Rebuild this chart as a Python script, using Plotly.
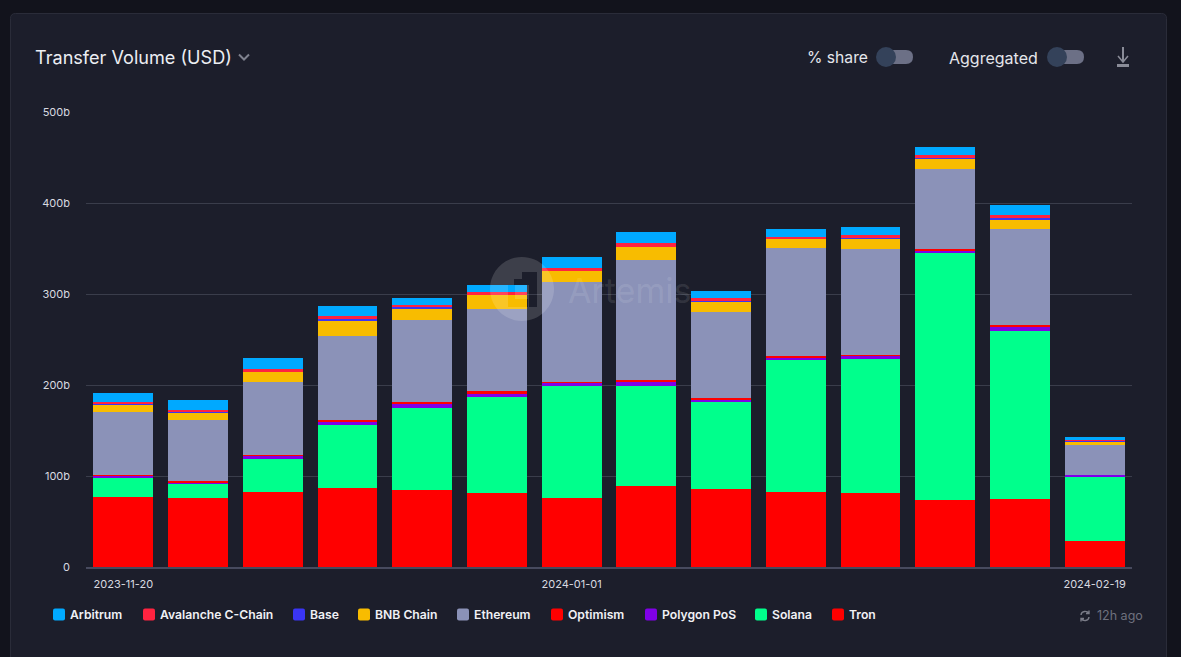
import plotly.graph_objects as go

weeks = ["2023-11-20","2023-11-27","2023-12-04","2023-12-11","2023-12-18","2023-12-25","2024-01-01",
         "2024-01-08","2024-01-15","2024-01-22","2024-01-29","2024-02-05","2024-02-12","2024-02-19"]
tron = [76.9,75.8,82.4,86.8,84.6,81.3,75.8,89.0,85.7,82.4,81.3,73.6,74.7,28.6]
solana = [20.9,15.4,36.3,69.2,90.1,105.5,123.1,109.9,95.6,145.1,147.3,271.4,184.6,70.3]
polygon = [2.5,2.2,3.3,3.3,4.4,3.3,3.3,4.4,3.3,3.0,3.3,3.3,4.4,2.2]
optimism = [0.8,1.1,1.1,2.2,2.2,3.3,1.1,2.2,1.1,1.4,1.1,1.1,2.2,0.3]
ethereum = [69.2,67.0,80.2,92.3,90.1,90.1,109.9,131.9,94.5,119.0,116.5,87.9,105.5,32.6]
bnb = [8.8,8.8,11.0,17.6,13.2,15.4,12.1,14.3,12.1,9.6,11.0,12.1,11.0,4.4]
base = [0.4,0.4,0.4,1.1,1.1,0.5,0.5,0.5,0.5,0.4,1.4,0.4,1.1,0.2]
avalanche = [1.8,1.8,2.9,3.3,2.5,2.7,2.7,3.8,2.7,1.8,3.0,2.9,3.0,0.9]
arbitrum = [9.9,11.0,12.1,11.0,7.4,7.7,12.1,12.1,7.7,8.8,8.8,8.8,11.3,3.3]

stack = [("Tron",tron,"#FF0000"),("Solana",solana,"#00FF8C"),("Polygon PoS",polygon,"#8000E8"),
         ("Optimism",optimism,"#FF0000"),("Ethereum",ethereum,"#8B92B8"),("BNB Chain",bnb,"#F8BC00"),
         ("Base",base,"#3A35F5"),("Avalanche C-Chain",avalanche,"#FF2340"),("Arbitrum",arbitrum,"#00A9FF")]

legend_items = [("Arbitrum",53,"#00A9FF"),("Avalanche C-Chain",143,"#FF2340"),("Base",293,"#3A35F5"),
                ("BNB Chain",358,"#F8BC00"),("Ethereum",457,"#8B92B8"),("Optimism",551,"#FF0000"),
                ("Polygon PoS",645,"#8000E8"),("Solana",755,"#00FF8C"),("Tron",832,"#FF0000")]

W,H = 1181,657
L,R,T,B = 86,49,112,90
PW,PH = W-L-R, H-T-B
def px(x): return (x-L)/PW
def py(y): return (H-B-y)/PH

def rr(x0,y0,x1,y1,r):
    X0,X1,Y0,Y1 = px(x0),px(x1),py(y0),py(y1)
    rx,ry = r/PW, r/PH
    return (f"M{X0+rx},{Y0} L{X1-rx},{Y0} Q{X1},{Y0} {X1},{Y0-ry} L{X1},{Y1+ry} Q{X1},{Y1} {X1-rx},{Y1} "
            f"L{X0+rx},{Y1} Q{X0},{Y1} {X0},{Y1+ry} L{X0},{Y0-ry} Q{X0},{Y0} {X0+rx},{Y0} Z")

def path(pts):
    return "M"+" L".join(f"{px(a)},{py(b)}" for a,b in pts)

def circle_path(cx,cy,r):
    k = 0.5523*r
    def p(a,b): return f"{px(a)},{py(b)}"
    return (f"M{p(cx+r,cy)} C{p(cx+r,cy+k)} {p(cx+k,cy+r)} {p(cx,cy+r)} "
            f"C{p(cx-k,cy+r)} {p(cx-r,cy+k)} {p(cx-r,cy)} "
            f"C{p(cx-r,cy-k)} {p(cx-k,cy-r)} {p(cx,cy-r)} "
            f"C{p(cx+k,cy-r)} {p(cx+r,cy-k)} {p(cx+r,cy)} Z")

shapes, ann = [], []
def sh(d,fill=None,line=None,lw=0,layer="above"):
    s = dict(type="path",xref="paper",yref="paper",path=d,
             line=dict(color=line or "rgba(0,0,0,0)",width=lw),layer=layer)
    if fill: s["fillcolor"]=fill
    shapes.append(s)
def circ(cx,cy,r,fill,layer="above"):
    shapes.append(dict(type="circle",xref="paper",yref="paper",x0=px(cx-r),x1=px(cx+r),y0=py(cy+r),y1=py(cy-r),
                       fillcolor=fill,line=dict(width=0),layer=layer))
def txt(s,x,y,size,color,anchor="left",family="Inter",weight=None):
    f = dict(family=family,size=size,color=color)
    if weight: f["weight"]=weight
    ann.append(dict(text=s,xref="paper",yref="paper",x=px(x-2),y=py(y),xanchor=anchor,yanchor="middle",
                    showarrow=False,font=f))

# card
sh(rr(10.5,13.5,1166.5,700,5),fill="#1C1E2B",line="#2A2C39",lw=1,layer="below")

# header
txt("Transfer Volume (USD)",35,57,18.1,"#ECEEF3")
sh(path([(239,54.5),(244,59.5),(249,54.5)]),line="#7F828F",lw=2)
txt("% share",807,58,15.7,"#E4E6EB")
txt("Aggregated",949,58,16,"#E4E6EB")
for x0 in (876,1047):
    sh(rr(x0+3,50,x0+37,64,7),fill="#6C7086")
    circ(x0+10,57,10,"#34425A")
sh(path([(1123,47),(1123,61)]),line="#8A8C98",lw=2)
sh(path([(1118,56),(1123,62),(1128,56)]),line="#8A8C98",lw=1.5)
sh(path([(1117,65.5),(1129,65.5)]),line="#8A8C98",lw=3)

# legend
for n,x,c in legend_items:
    sh(rr(x,608.5,x+12,620.5,2),fill=c)
    txt(n,x+17,614.3,12.2,"#F0F1F5",weight=600)

# refresh icon + age
def pp(a,b): return f"{px(a)},{py(b)}"
sh(f"M{pp(1081,615)} C{pp(1081.5,610.5)} {pp(1087,610.5)} {pp(1089,613.5)} M{pp(1089,610.5)} L{pp(1089,613.5)} L{pp(1086,613.5)}",
   line="#7A7C88",lw=1.4)
sh(f"M{pp(1089,617)} C{pp(1088.5,621.5)} {pp(1083,621.5)} {pp(1081,618.5)} M{pp(1081,621.5)} L{pp(1081,618.5)} L{pp(1084,618.5)}",
   line="#7A7C88",lw=1.4)
txt("12h ago",1097,615.3,12.5,"#6E717E")

# watermark: translucent disc with the logo cut out
logo = [[(522,272),(537,272),(537,307),(529,307),(529,285),(514,285),(514,279),(522,279)],
        [(508,285),(515,285),(515,299),(528,299),(528,307),(508,307)]]
d = circle_path(522,289,32)
for poly in logo:
    d += " " + path(poly) + " Z"
shapes.append(dict(type="path",xref="paper",yref="paper",path=d,fillcolor="rgba(255,255,255,0.15)",
                   fillrule="evenodd",line=dict(width=0),layer="above"))
txt("Artemis",568,290,34,"rgba(255,255,255,0.11)")

fig = go.Figure()
for name,vals,col in stack:
    fig.add_trace(go.Bar(name=name,x=weeks,y=vals,marker=dict(color=col,line=dict(width=0)),showlegend=False))

fig.update_layout(
    barmode="stack",bargap=0.2,width=W,height=H,autosize=False,
    margin=dict(l=L,r=R,t=T,b=B,pad=0),
    paper_bgcolor="#12131C",plot_bgcolor="rgba(0,0,0,0)",
    font=dict(family="Inter",color="#D8DAE0",size=11),
    shapes=shapes,annotations=ann,
    xaxis=dict(type="category",categoryorder="array",categoryarray=weeks,tickmode="array",
               tickvals=["2023-11-20","2024-01-01","2024-02-19"],tickangle=0,
               showgrid=False,ticks="",showline=True,linecolor="#474A5E",linewidth=2,
               tickfont=dict(family="Inter",size=11,color="#D8DAE0"),ticklabelstandoff=6),
    yaxis=dict(range=[0,500],tickmode="array",tickvals=[0,100,200,300,400,500],
               ticktext=["0","100b","200b","300b","400b","500b"],
               showgrid=True,gridcolor="#3A3D4B",gridwidth=1,zeroline=False,ticks="",showline=False,
               tickfont=dict(family="Inter",size=11,color="#D8DAE0"),ticklabelstandoff=15),
)
fig.write_html("out.html",config=dict(displayModeBar=False),
               post_script="document.body.style.margin='0';document.body.style.background='#12131C';document.body.style.overflow='hidden';")
